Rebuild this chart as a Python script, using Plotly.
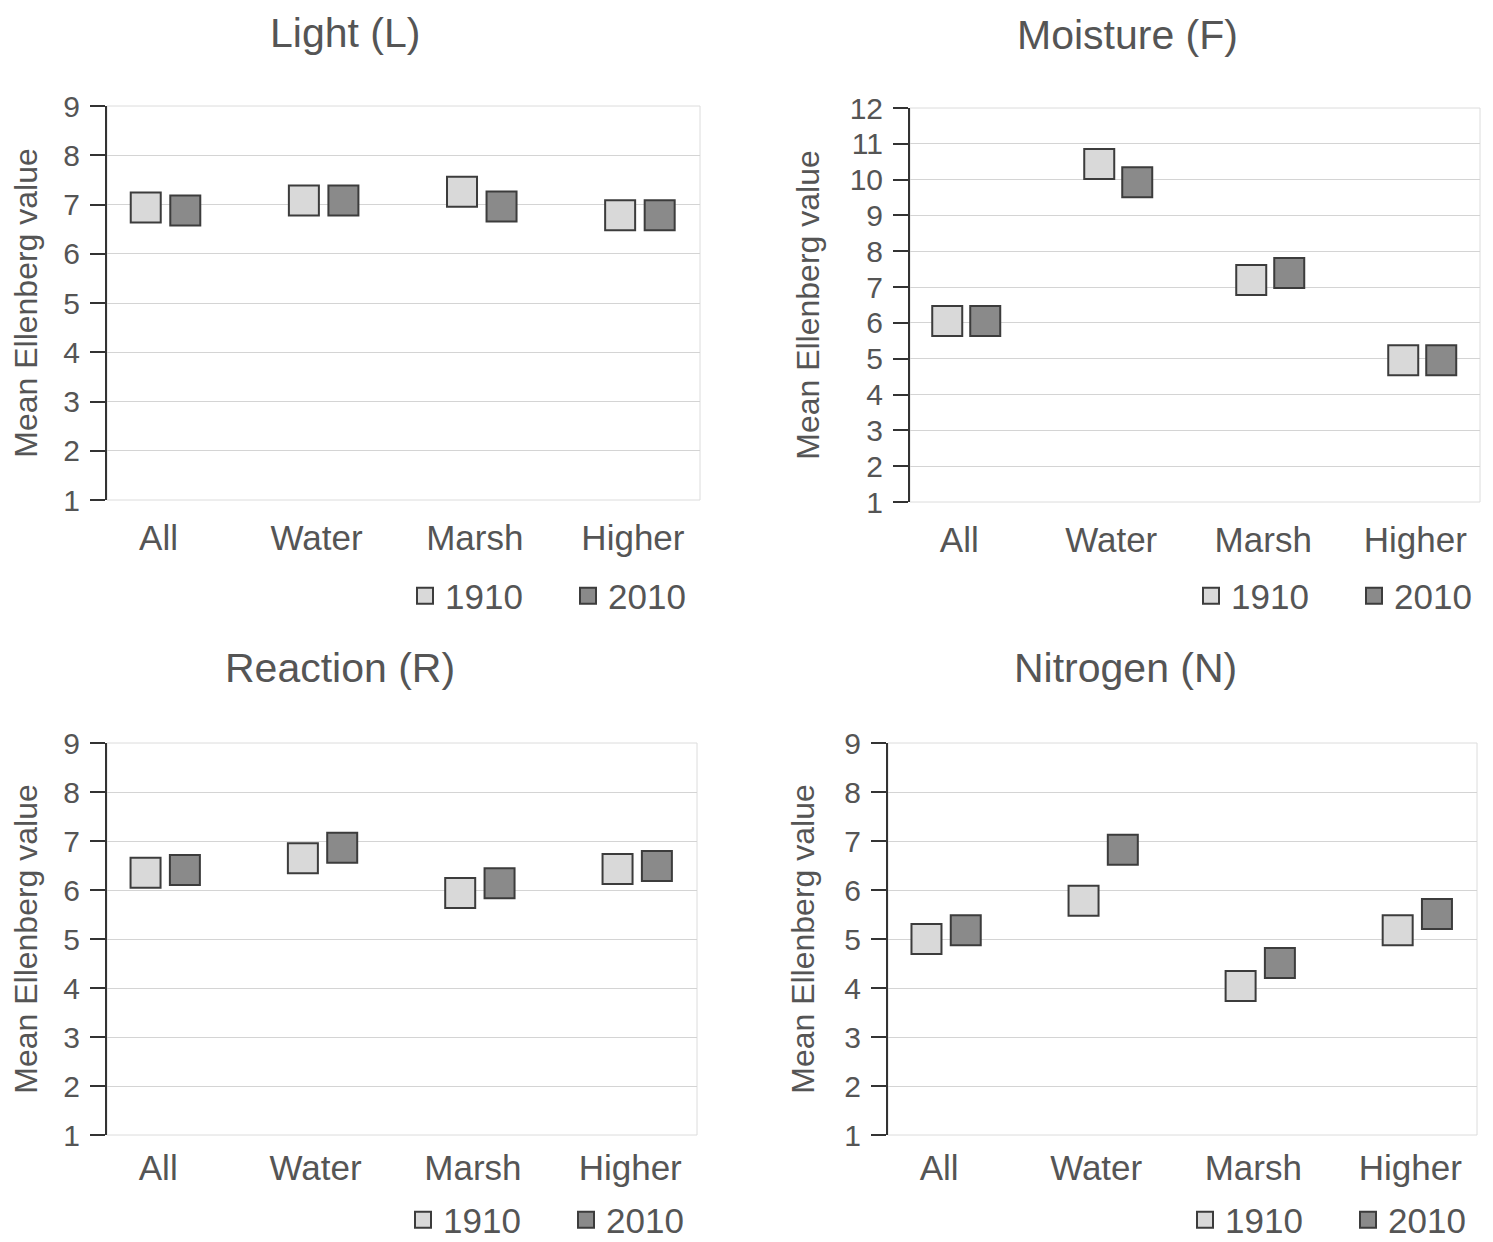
import plotly.graph_objects as go

categories = ["All", "Water", "Marsh", "Higher"]
years = ["1910", "2010"]

light_1910 = [6.94, 7.08, 7.26, 6.78]
light_2010 = [6.88, 7.08, 6.96, 6.78]
moist_1910 = [6.05, 10.44, 7.20, 4.96]
moist_2010 = [6.05, 9.93, 7.39, 4.96]
react_1910 = [6.35, 6.65, 5.94, 6.43]
react_2010 = [6.41, 6.86, 6.14, 6.49]
nitro_1910 = [5.00, 5.78, 4.04, 5.18]
nitro_2010 = [5.18, 6.82, 4.51, 5.51]

titles = ["Light (L)", "Moisture (F)", "Reaction (R)", "Nitrogen (N)"]
ymax = [9, 12, 9, 9]
panels = [(light_1910, light_2010), (moist_1910, moist_2010),
          (react_1910, react_2010), (nitro_1910, nitro_2010)]

W, H = 1493, 1242
OFF = 8  # page body margin
# plot-area pixel boxes in screen coords (left, right, top, bottom)
boxes = [(107, 700, 106, 500), (910, 1480, 108, 502),
         (107, 697, 743, 1135), (888, 1477, 743, 1135)]
title_pos = [(345, 33), (1127, 35), (340, 668), (1125, 668)]
legend_pos = [(405, 596), (1191, 596), (403, 1220), (1185, 1220)]
label_standoff = [14, 14, 9, 9]

FONT = "Liberation Sans, Arial, sans-serif"
TXT = "#555555"
fill_colors = ["#d9d9d9", "#8a8a8a"]
edge = "#3c3c3c"
offset = 0.125


def px(x):
    return (x - OFF) / W


def py(y):
    return 1 - (y - OFF) / H


fig = go.Figure()
x_idx = list(range(len(categories)))

for p, (s1910, s2010) in enumerate(panels):
    n = p + 1
    xa = "x" if n == 1 else f"x{n}"
    ya = "y" if n == 1 else f"y{n}"
    lg = "legend" if n == 1 else f"legend{n}"
    for k, (vals, yr) in enumerate(zip((s1910, s2010), years)):
        xs = [i + (-offset if k == 0 else offset) for i in x_idx]
        fig.add_trace(go.Scatter(
            x=xs, y=vals, mode="markers", name=yr,
            marker=dict(symbol="square", size=30, color=fill_colors[k],
                        line=dict(color=edge, width=2)),
            xaxis=xa, yaxis=ya, legend=lg, showlegend=True))

    l, r, t, b = boxes[p]
    dom_x = [px(l), px(r)]
    dom_y = [py(b), py(t)]
    xkey = "xaxis" if n == 1 else f"xaxis{n}"
    ykey = "yaxis" if n == 1 else f"yaxis{n}"
    fig.update_layout({
        xkey: dict(domain=dom_x, anchor=ya, range=[-0.37, 3.38],
                   tickvals=x_idx, ticktext=categories, showgrid=False,
                   zeroline=False, showline=False, ticks="",
                   automargin=False,
                   ticklabelstandoff=label_standoff[p], ticklabelshift=-7,
                   tickfont=dict(family=FONT, size=35, color=TXT)),
        ykey: dict(domain=dom_y, anchor=xa, range=[1, ymax[p]],
                   dtick=1, showgrid=True, gridcolor="#d4d4d4", gridwidth=1,
                   zeroline=False, showline=True, linecolor="#333333",
                   linewidth=2, ticks="outside", ticklen=15, tickwidth=2,
                   tickcolor="#333333", automargin=False,
                   ticklabelstandoff=4,
                   tickfont=dict(family=FONT, size=30, color=TXT),
                   title=dict(text="Mean Ellenberg value", standoff=20,
                              font=dict(family=FONT, size=32, color=TXT))),
    })
    # faint plot border
    fig.add_shape(type="rect", xref=f"{xa} domain", yref=f"{ya} domain",
                  x0=0, x1=1, y0=0, y1=1, line=dict(color="#dcdcdc", width=1),
                  layer="below")
    tx, ty = title_pos[p]
    fig.add_annotation(text=titles[p], x=px(tx), y=py(ty), xref="paper",
                       yref="paper", showarrow=False, xanchor="center",
                       yanchor="middle",
                       font=dict(family=FONT, size=41, color=TXT))
    lx, ly = legend_pos[p]
    fig.update_layout({lg: dict(orientation="h", x=px(lx), y=py(ly),
                                xanchor="left", yanchor="middle",
                                bgcolor="rgba(0,0,0,0)", entrywidth=118,
                                itemwidth=30,
                                font=dict(family=FONT, size=35, color=TXT))})

fig.update_layout(width=W, height=H, margin=dict(l=0, r=0, t=0, b=0,
                                                 autoexpand=False),
                  paper_bgcolor="white", plot_bgcolor="white")

fig.write_html("out.html")
